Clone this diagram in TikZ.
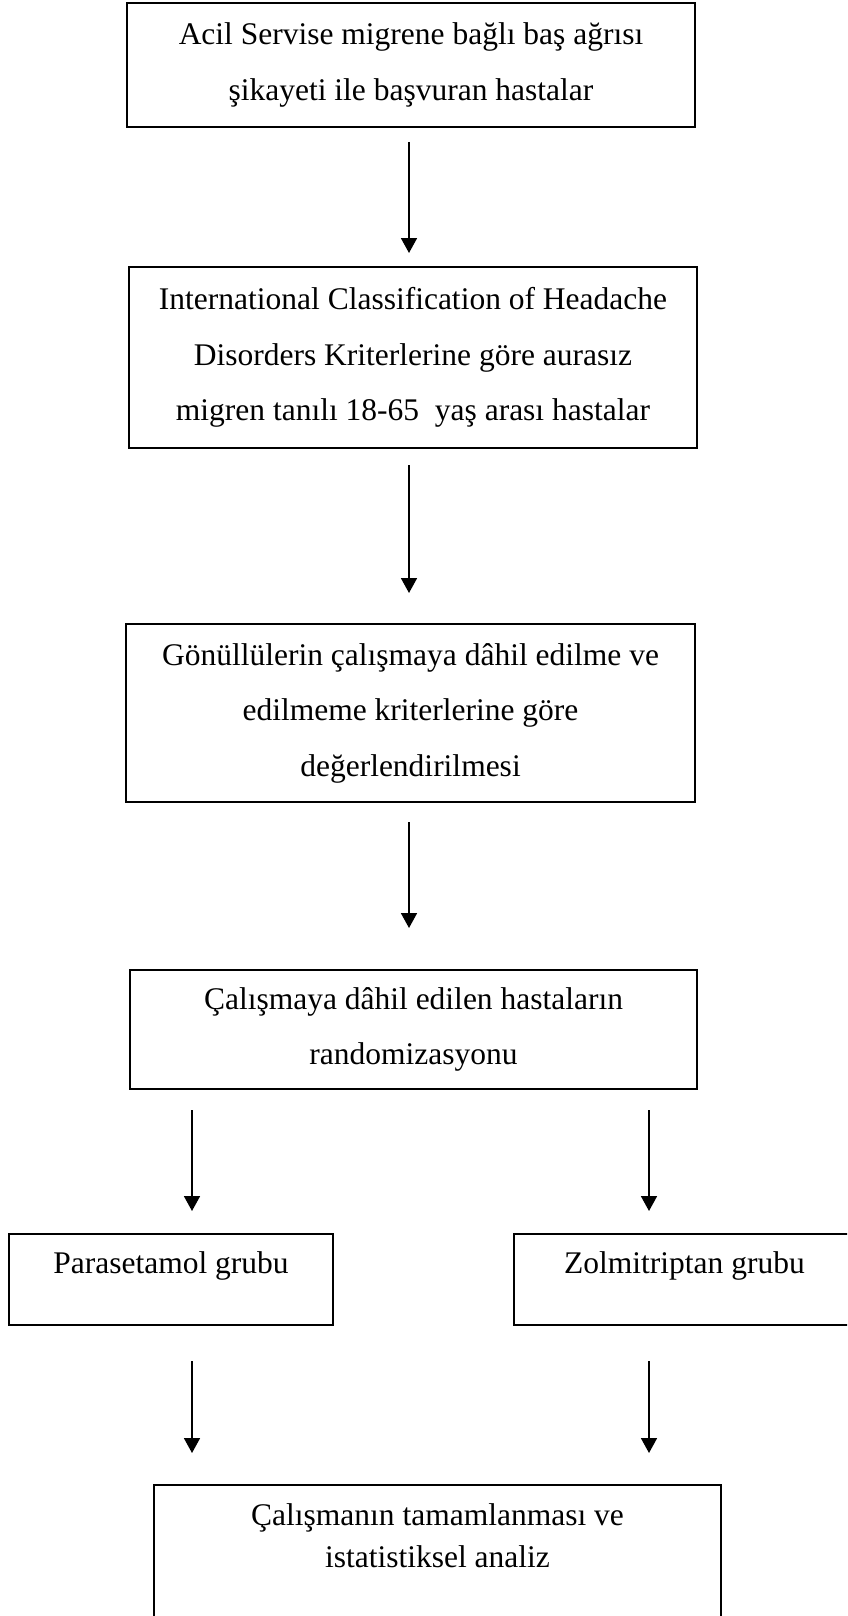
\documentclass[tikz,border=0pt]{standalone}
\usepackage{fontspec}
\setmainfont{Liberation Serif}
\usepackage{tikz}
\usetikzlibrary{arrows.meta,positioning}
\tikzset{
  box/.style={draw=black, line width=1.8pt, inner sep=0pt, outer sep=0pt, align=center, font=\fontsize{31.5}{55.5}\selectfont},
  onebox/.style={box, text height=39pt, text depth=52pt},
  lab/.style={inner sep=0pt, align=center, font=\fontsize{31.5}{42}\selectfont},
  arr/.style={draw=black, line width=1.8pt, -{Triangle[width=16pt,length=15pt]}},
}

\begin{document}
\begin{tikzpicture}[x=1pt, y=-1pt]
  \clip (0,0) rectangle (847,1616);

  \coordinate (colM) at (409,0);
  \coordinate (colL) at (192,0);
  \coordinate (colR) at (649,0);

  \node[box, minimum width=568pt, minimum height=124pt] (b1) at (411,65)
    {Acil Servise migrene bağlı baş ağrısı\\ şikayeti ile başvuran hastalar};
  \node[box, minimum width=568pt, minimum height=181pt] (b2) at (413,357.5)
    {International Classification of Headache\\ Disorders Kriterlerine göre aurasız\\ migren tanılı 18-65\ \ yaş arası hastalar};
  \node[box, minimum width=569pt, minimum height=178pt] (b3) at (410.5,713)
    {Gönüllülerin çalışmaya dâhil edilme ve\\ edilmeme kriterlerine göre\\ değerlendirilmesi};
  \node[box, minimum width=567pt, minimum height=119pt] (b4) at (413.5,1029.5)
    {Çalışmaya dâhil edilen hastaların\\ randomizasyonu};

  \node[onebox, minimum width=324pt, anchor=base] (parac) at (171,1273) {Parasetamol grubu};
  \node[onebox, minimum width=341pt, anchor=base] (zolmi) at (684.5,1273) {Zolmitriptan grubu};

  \node[box, minimum width=567pt, minimum height=200pt, anchor=north] (b6) at (437.5,1485) {};
  \node[lab, below=18pt of b6.north] (t6) {Çalışmanın tamamlanması ve\\ istatistiksel analiz};

  % arrows
  \draw[arr, shorten <=15pt, shorten >=14pt] (b1.south -| colM) -- (b2.north -| colM);
  \draw[arr, shorten <=17pt, shorten >=31pt] (b2.south -| colM) -- (b3.north -| colM);
  \draw[arr, shorten <=20pt, shorten >=42pt] (b3.south -| colM) -- (b4.north -| colM);
  \draw[arr, shorten <=21pt, shorten >=23pt] (b4.south -| colL) -- (parac.north -| colL);
  \draw[arr, shorten <=21pt, shorten >=23pt] (b4.south -| colR) -- (zolmi.north -| colR);
  \draw[arr, shorten <=36pt, shorten >=32pt] (parac.south -| colL) -- (b6.north -| colL);
  \draw[arr, shorten <=36pt, shorten >=32pt] (zolmi.south -| colR) -- (b6.north -| colR);
\end{tikzpicture}
\end{document}
